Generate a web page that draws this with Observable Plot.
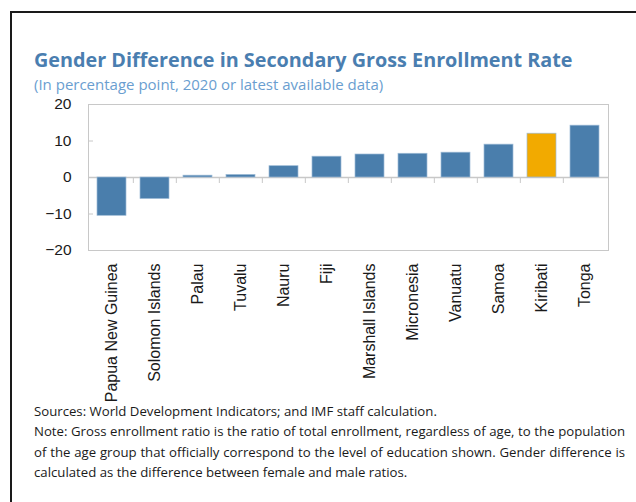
<!DOCTYPE html>
<html><head><meta charset="utf-8">
<script src="https://cdn.jsdelivr.net/npm/d3@7"></script>
<script src="https://cdn.jsdelivr.net/npm/@observablehq/plot@0.6"></script>
<style>
html,body{margin:0;padding:0;background:#fff;width:636px;height:502px;overflow:hidden;font-family:"Open Sans",sans-serif;}
#border{position:absolute;left:10px;top:11px;width:700px;height:600px;border:2px solid #1a1a1a;}
#title{position:absolute;left:34px;top:50px;font-size:19.8px;line-height:20px;font-weight:700;color:#4a7eb0;white-space:nowrap;}
#subtitle{position:absolute;left:34px;top:77px;font-size:15px;line-height:15px;color:#6a9ed0;white-space:nowrap;}
#chart{position:absolute;left:0;top:90px;}
#footer{position:absolute;left:34px;top:401px;width:591px;font-size:13.2px;line-height:20.3px;color:#1a1a1a;}
#footer div{white-space:nowrap;}
#footer .j{text-align:justify;text-align-last:justify;}
</style></head>
<body>
<div id="border"></div>
<div id="title">Gender Difference in Secondary Gross Enrollment Rate</div>
<div id="subtitle">(In percentage point, 2020 or latest available data)</div>
<div id="chart"></div>
<div id="footer">
<div>Sources: World Development Indicators; and IMF staff calculation.</div>
<div class="j">Note: Gross enrollment ratio is the ratio of total enrollment, regardless of age, to the population</div>
<div class="j">of the age group that officially correspond to the level of education shown. Gender difference is</div>
<div>calculated as the difference between female and male ratios.</div>
</div>
<script>
const countries = ["Papua New Guinea","Solomon Islands","Palau","Tuvalu","Nauru","Fiji","Marshall Islands","Micronesia","Vanuatu","Samoa","Kiribati","Tonga"];
const values = [-10.5,-5.9,0.5,0.7,3.1,5.7,6.3,6.5,6.8,9.0,12.0,14.2];
const highlight = "Kiribati";
const yTicks = [-20,-10,0,10,20];
const yDomain = [-20,20];

const blue = "#4a7eac", orange = "#f2aa00", grid = "#c8c8c8", ink = "#1a1a1a";
const data = countries.map((c,i)=>({country:c, value:values[i]}));

const W=636, H=306, mL=88, mR=28, mT=14, mB=146;
const step = (W-mL-mR)/countries.length;
const tickUnits = 6*(yDomain[1]-yDomain[0])/(H-mT-mB);
const tickFont = "'Liberation Sans', Arial, sans-serif";

const chart = Plot.plot({
  width:W, height:H, marginLeft:mL, marginRight:mR, marginTop:mT, marginBottom:mB,
  style:{fontFamily:tickFont, background:"transparent", overflow:"visible"},
  x:{domain:countries, paddingInner:0.33, paddingOuter:0.165, label:null},
  y:{domain:yDomain, label:null},
  marks:[
    Plot.frame({stroke:grid}),
    Plot.ruleY([0],{stroke:grid, strokeWidth:1.5}),
    Plot.ruleX(countries.slice(1), {x:d=>d, y1:0, y2:-tickUnits, dx:-step/2, stroke:grid}),
    Plot.barY(data, {x:"country", y:"value", fill:d=>d.country===highlight?orange:blue, stroke:"#9dbbd6", strokeWidth:0.7}),
    Plot.axisY(yTicks, {tickSize:5, dx:5, tickPadding:17, stroke:grid, fill:ink, fontSize:15.5}),
    Plot.axisX({tickSize:0, tickPadding:13, tickRotate:-90, fill:ink, fontSize:16})
  ]
});
document.getElementById("chart").appendChild(chart);
</script>
</body></html>
